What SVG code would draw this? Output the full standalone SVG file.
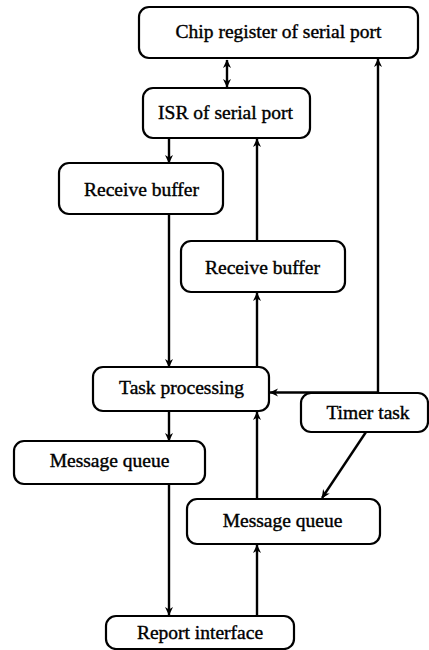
<svg xmlns="http://www.w3.org/2000/svg" width="429" height="650" viewBox="0 0 429 650">
  <style>
    .box { fill: #fff; stroke: #000; stroke-width: 2.2; }
    .lbl { font-family: "Liberation Serif", "Times New Roman", serif; font-size: 19.5px; fill: #000; text-anchor: middle; stroke: #000; stroke-width: 0.4; }
    .wire { fill: none; stroke: #000; stroke-width: 2.4; }
  </style>
  <defs>
    <!-- notched solid arrowhead, drawn in user units -->
    <marker id="arrow" markerUnits="userSpaceOnUse" markerWidth="10" markerHeight="10" refX="8.5" refY="5" orient="auto-start-reverse">
      <path d="M0.5,1 L9,5 L0.5,9 L3,5 z" fill="#000"/>
    </marker>
  </defs>
  <rect width="429" height="650" fill="#fff"/>

  <g id="connectors">
    <line class="wire" x1="227" y1="60" x2="227" y2="87" marker-start="url(#arrow)" marker-end="url(#arrow)"/>
    <line class="wire" x1="169" y1="139" x2="169" y2="163" marker-end="url(#arrow)"/>
    <line class="wire" x1="257" y1="241" x2="257" y2="139" marker-end="url(#arrow)"/>
    <line class="wire" x1="378" y1="393" x2="378" y2="59" marker-end="url(#arrow)"/>
    <line class="wire" x1="169" y1="214" x2="169" y2="367" marker-end="url(#arrow)"/>
    <line class="wire" x1="257" y1="367" x2="257" y2="293" marker-end="url(#arrow)"/>
    <line class="wire" x1="378" y1="392.5" x2="270" y2="392.5" marker-end="url(#arrow)"/>
    <line class="wire" x1="169" y1="411" x2="169" y2="441" marker-end="url(#arrow)"/>
    <line class="wire" x1="257" y1="499" x2="257" y2="412" marker-end="url(#arrow)"/>
    <line class="wire" x1="366" y1="432" x2="322" y2="498" marker-end="url(#arrow)"/>
    <line class="wire" x1="169" y1="484" x2="169" y2="615" marker-end="url(#arrow)"/>
    <line class="wire" x1="257" y1="616" x2="257" y2="545" marker-end="url(#arrow)"/>
  </g>

  <g id="chip-register">
    <rect class="box" x="139" y="7" width="279" height="51" rx="10"/>
    <text class="lbl" x="278.5" y="37.5">Chip register of serial port</text>
  </g>
  <g id="isr">
    <rect class="box" x="143" y="88" width="167" height="50" rx="10"/>
    <text class="lbl" x="225.5" y="118.5">ISR of serial port</text>
  </g>
  <g id="receive-buffer-in">
    <rect class="box" x="59" y="163" width="164" height="51" rx="10"/>
    <text class="lbl" x="141.5" y="196">Receive buffer</text>
  </g>
  <g id="receive-buffer-out">
    <rect class="box" x="181" y="241" width="164" height="51" rx="10"/>
    <text class="lbl" x="262.5" y="273.5">Receive buffer</text>
  </g>
  <g id="task-processing">
    <rect class="box" x="93" y="367" width="176" height="44" rx="10"/>
    <text class="lbl" x="181.5" y="394">Task processing</text>
  </g>
  <g id="timer-task">
    <rect class="box" x="301" y="393" width="127" height="39" rx="10"/>
    <text class="lbl" x="368" y="419">Timer task</text>
  </g>
  <g id="message-queue-in">
    <rect class="box" x="14" y="441" width="191" height="43" rx="10"/>
    <text class="lbl" x="109.5" y="467">Message queue</text>
  </g>
  <g id="message-queue-out">
    <rect class="box" x="187" y="499" width="193" height="45" rx="10"/>
    <text class="lbl" x="282.5" y="527">Message queue</text>
  </g>
  <g id="report-interface">
    <rect class="box" x="106" y="616" width="188" height="33" rx="10"/>
    <text class="lbl" x="200" y="639">Report interface</text>
  </g>
</svg>
